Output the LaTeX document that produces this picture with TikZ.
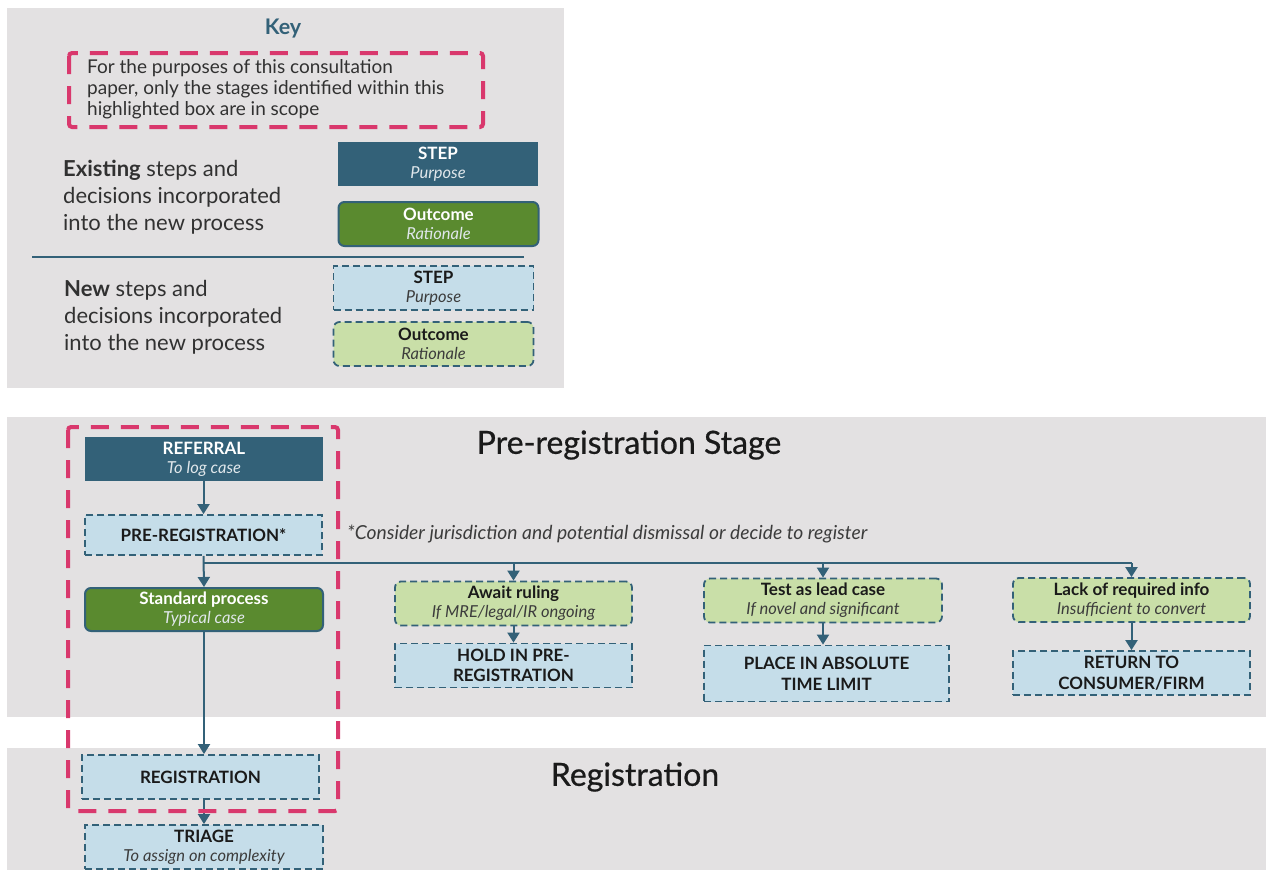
\documentclass[tikz,border=0pt]{standalone}
\usepackage{fontspec}
\setmainfont{Lato}
\newfontfamily\medfont{Lato}[FakeBold=0.6]
\usetikzlibrary{arrows.meta}
\definecolor{teal}{HTML}{336178}
\definecolor{dgreen}{HTML}{5A8A2F}
\definecolor{lblue}{HTML}{C5DDE9}
\definecolor{lgreen}{HTML}{C9DFA8}
\definecolor{pinkc}{HTML}{D9386D}
\definecolor{bgray}{HTML}{E3E1E2}
\definecolor{ink}{HTML}{1A1A1A}
\tikzset{
  box/.style={minimum width=238pt, minimum height=44pt, inner sep=0pt, align=center,
    font=\fontsize{17}{19}\selectfont},
  oldstep/.style={box, fill=teal, draw=none, text=white},
  oldout/.style={box, fill=dgreen, draw=teal, line width=2pt, rounded corners=6pt, text=white},
  newstep/.style={box, fill=lblue, draw=teal, line width=1.8pt, dash pattern=on 7pt off 4pt, text=ink},
  newout/.style={newstep, fill=lgreen, rounded corners=6pt},
  conn/.style={draw=teal, line width=2pt},
  arr/.style={conn, -{Triangle[width=12pt,length=10pt]}},
  pinkbox/.style={draw=pinkc, line width=4pt, dash pattern=on 18pt off 12pt},
  title/.style={font=\fontsize{32}{34}\selectfont\medfont, text=ink}
}
\newcommand{\subw}[1]{{\fontsize{16.5}{19}\selectfont\itshape\color{white!85!teal}#1}}
\newcommand{\subk}[1]{{\fontsize{16.5}{19}\selectfont\itshape\color{ink!85}#1}}
\begin{document}
\begin{tikzpicture}[x=1pt,y=-1pt]
\useasboundingbox (0,0) rectangle (1270,870);
% backgrounds
\fill[bgray] (7,8) rectangle (564,388);
\fill[bgray] (7,417) rectangle (1266,717);
\fill[bgray] (7,748) rectangle (1266,870);

% Key
\node[font=\fontsize{21.5}{23}\selectfont\bfseries, text=teal] (keyt) at (283,29) {Key};
\draw[pinkbox, rounded corners=3pt] (69,53) rectangle (483,127);
\node[anchor=west, align=left, inner sep=0pt, text=ink!90, font=\fontsize{19}{21}\selectfont] (keytxt) at (87,89)
  {For the purposes of this consultation\\paper, only the stages identified within this\\highlighted box are in scope};
\node[anchor=west, align=left, inner sep=0pt, text=ink!90, font=\fontsize{22}{27}\selectfont] (exist) at (63,197)
  {\textbf{Existing} steps and\\decisions incorporated\\into the new process};
\node[anchor=west, align=left, inner sep=0pt, text=ink!90, font=\fontsize{22}{27}\selectfont] (new) at (64,317)
  {\textbf{New} steps and\\decisions incorporated\\into the new process};
\node[oldstep, minimum width=200pt] (k1) at (438,164) {\textbf{STEP}\\\subw{Purpose}};
\node[oldout, minimum width=200pt] (k2) at (438.5,224) {\textbf{Outcome}\\\subw{Rationale}};
\draw[teal, line width=1.6pt] (32,257) -- (524,257);
\node[newstep, minimum width=200pt] (k3) at (433.5,288) {\textbf{STEP}\\\subk{Purpose}};
\node[newout, minimum width=200pt] (k4) at (433.5,344) {\textbf{Outcome}\\\subk{Rationale}};

% stage titles
\node[title] (pret) at (629,445) {Pre-registration Stage};
\node[title] (regt) at (635,777) {Registration};

% flow
\node[oldstep] (referral) at (204,459) {\textbf{REFERRAL}\\\subw{To log case}};
\node[newstep, minimum width=237pt, minimum height=40pt] (prereg) at (203.5,535) {\textbf{PRE-REGISTRATION*}};
\node[anchor=west, inner sep=0pt, text=ink!85, font=\fontsize{19.3}{21}\selectfont\itshape] (note) at (347,534)
  {*Consider jurisdiction and potential dismissal or decide to register};
\node[oldout, minimum height=43pt] (standard) at (204,609.5) {\textbf{Standard process}\\\subw{Typical case}};
\node[newout, minimum width=237pt] (await) at (513.5,603.5) {\textbf{Await ruling}\\\subk{If MRE/legal/IR ongoing}};
\node[newstep, minimum width=237pt, minimum height=44pt, font=\fontsize{17}{20}\selectfont] (hold) at (513.5,665.5) {\textbf{HOLD IN PRE-}\\\textbf{REGISTRATION}};
\node[newout, minimum width=238pt] (test) at (823,600.5) {\textbf{Test as lead case}\\\subk{If novel and significant}};
\node[newstep, minimum width=245pt, minimum height=56pt, font=\fontsize{17}{21}\selectfont] (place) at (826.5,673.5) {\textbf{PLACE IN ABSOLUTE}\\\textbf{TIME LIMIT}};
\node[newout, minimum width=237pt] (lack) at (1131.5,600) {\textbf{Lack of required info}\\\subk{Insufficient to convert}};
\node[newstep, minimum width=237pt, font=\fontsize{17}{21}\selectfont] (ret) at (1131.5,673) {\textbf{RETURN TO}\\\textbf{CONSUMER/FIRM}};
\node[newstep, minimum width=237pt] (reg) at (200.5,777) {\textbf{REGISTRATION}};
\node[newstep] (triage) at (204,847) {\textbf{TRIAGE}\\\subk{To assign on complexity}};

\coordinate (j) at (204,563);
\draw[arr] (referral.south) -- (prereg.south |- referral.south) -- (prereg.north);
\draw[arr] (prereg.south) -- (standard.north);
\draw[conn] (j) -- (lack.north |- j);
\draw[arr] (await.north |- j) -- (await.north);
\draw[arr] (test.north |- j) -- (test.north);
\draw[arr] (lack.north |- j) -- (lack.north);
\draw[arr] (await.south) -- (hold.north);
\draw[arr] (test.south) -- (place.north -| test.south);
\draw[arr] (lack.south) -- (ret.north);
\draw[arr] (standard.south) -- (standard.south |- reg.north);
\draw[arr] (reg.south -| triage.north) -- (triage.north);

% scope box
\draw[pinkbox, rounded corners=3pt] (68,427) rectangle (338,811);
\end{tikzpicture}
\end{document}
